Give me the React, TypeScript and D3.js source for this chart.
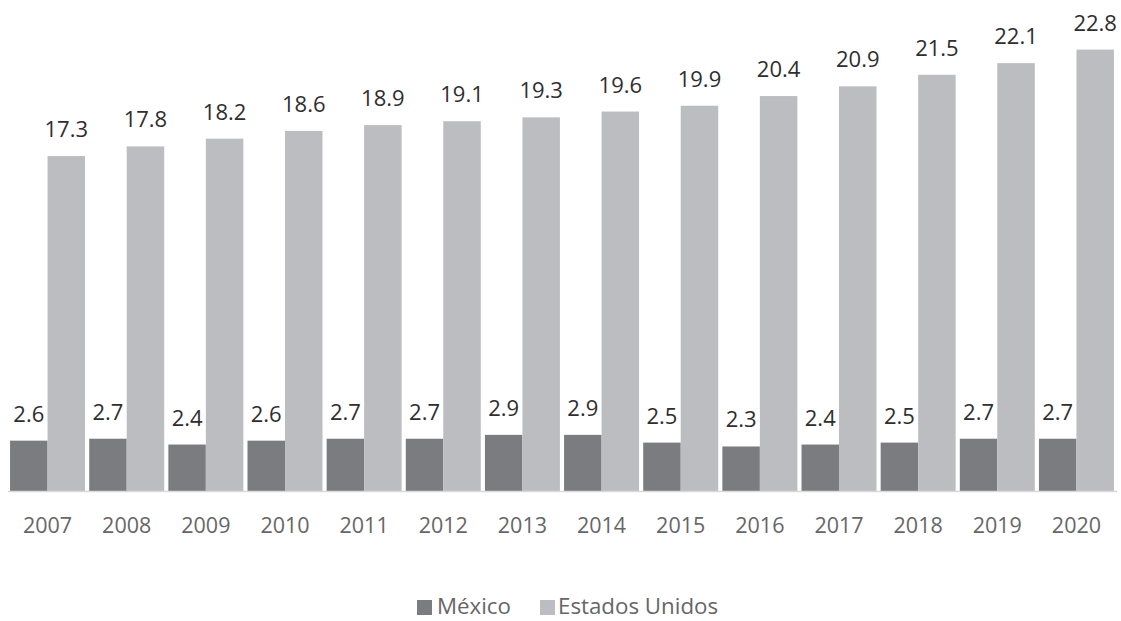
import React from "react";
import * as d3 from "d3";

const years = ["2007","2008","2009","2010","2011","2012","2013","2014","2015","2016","2017","2018","2019","2020"];
const mexico = [2.6,2.7,2.4,2.6,2.7,2.7,2.9,2.9,2.5,2.3,2.4,2.5,2.7,2.7];
const usa = [17.3,17.8,18.2,18.6,18.9,19.1,19.3,19.6,19.9,20.4,20.9,21.5,22.1,22.8];
const seriesNames = ["México","Estados Unidos"];
const colors = ["#7b7c80","#bcbdc1"];

const W = 1121, H = 621;
const FONT = "'Open Sans', Lato, sans-serif";

export default function App() {
  const x0 = d3.scaleBand<string>().domain(years).range([8, 1116]).paddingInner(0.0525).paddingOuter(0.026);
  const x1 = d3.scaleBand<string>().domain(seriesNames).range([0, x0.bandwidth()]);
  const y = d3.scaleLinear().domain([0, 25]).range([491, 7]);
  const data = [mexico, usa];

  return (
    <svg width={W} height={H} style={{ position: "absolute", left: 0, top: 0 }} fontFamily={FONT}>
      <rect width={W} height={H} fill="#fff" />
      {data.map((vals, si) =>
        vals.map((v, i) => {
          const bx = (x0(years[i]) as number) + (x1(seriesNames[si]) as number);
          const bw = x1.bandwidth();
          return (
            <g key={`${si}-${i}`}>
              <rect x={bx} y={y(v)} width={bw} height={y(0) - y(v)} fill={colors[si]} />
              <text x={bx + bw / 2} y={y(v) - 19} textAnchor="middle" fontSize={22} fill="#2e2e2e">
                {v.toFixed(1)}
              </text>
            </g>
          );
        })
      )}
      <line x1={8} x2={1117} y1={491.5} y2={491.5} stroke="#d9d9d9" strokeWidth={1.5} />
      {years.map((yr) => (
        <text key={yr} x={(x0(yr) as number) + x0.bandwidth() / 2} y={533} textAnchor="middle" fontSize={21.5} fill="#666">
          {yr}
        </text>
      ))}
      <g>
        <rect x={417} y={600} width={15} height={15} fill={colors[0]} />
        <text x={437} y={614} fontSize={22.3} fill="#666">{seriesNames[0]}</text>
        <rect x={540} y={600} width={15} height={15} fill={colors[1]} />
        <text x={558} y={614} fontSize={22.3} fill="#666">{seriesNames[1]}</text>
      </g>
    </svg>
  );
}
